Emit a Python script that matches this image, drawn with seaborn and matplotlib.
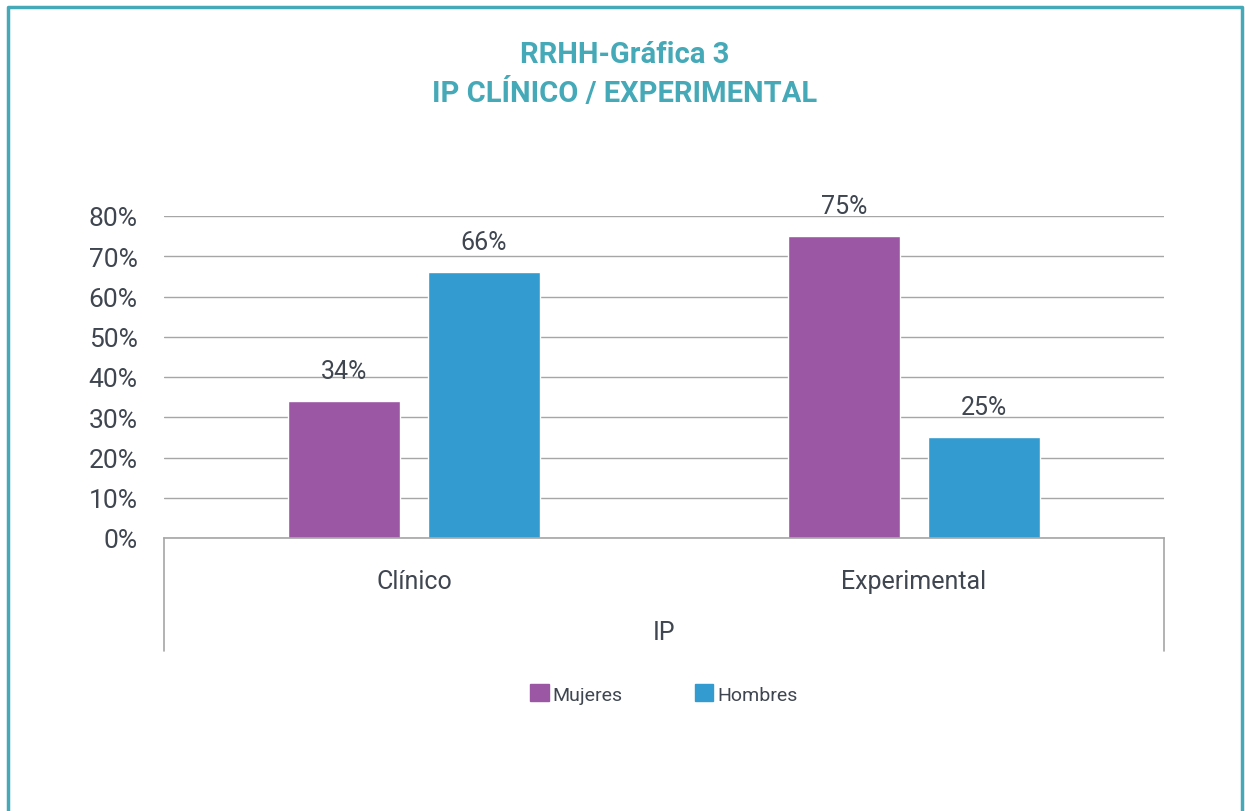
import pandas as pd
import numpy as np

import matplotlib.pyplot as plt
import seaborn as sns
from matplotlib.lines import Line2D

categorias = ['Clínico', 'Experimental']
series = ['Mujeres', 'Hombres']
mujeres = [0.34, 0.75]
hombres = [0.66, 0.25]
etiquetas_y = ['0%', '10%', '20%', '30%', '40%', '50%', '60%', '70%', '80%']

colores = ['#9B57A3', '#339BCF']
texto = '#3F4650'
teal = '#45A9B8'
rejilla = '#A6A6A6'


def get_df():
    """build the long dataframe that seaborn wants"""
    df = pd.DataFrame({'IP': categorias * 2,
                       'serie': [series[0]] * 2 + [series[1]] * 2,
                       'valor': mujeres + hombres})
    return df


def plot(df):
    sns.set_style('white')
    plt.rcParams['font.family'] = ['Roboto', 'DejaVu Sans']

    fig = plt.figure(figsize=(12.45, 8.12), dpi=100)
    ax = fig.add_axes([164 / 1245, 1 - 539 / 812, 1000 / 1245, 322 / 812])

    sns.barplot(data=df, x='IP', y='valor', hue='serie', order=categorias,
                hue_order=series, palette=colores, width=0.56, gap=0.2,
                saturation=1, ax=ax, legend=True)

    ax.set_xlim(-0.5, 1.5)
    ax.set_ylim(0, 0.8)
    ax.set_yticks(np.linspace(0, 0.8, len(etiquetas_y)))
    ax.set_yticklabels(etiquetas_y)
    ax.yaxis.grid(True, color=rejilla, linewidth=1)
    ax.set_axisbelow(True)
    for s in ['top', 'right', 'left']:
        ax.spines[s].set_visible(False)
    ax.spines['bottom'].set_color(rejilla)
    ax.spines['bottom'].set_linewidth(1.2)
    ax.tick_params(axis='y', length=0, pad=19, labelsize=19, labelcolor=texto)
    ax.tick_params(axis='x', length=0, pad=22, labelsize=18, labelcolor=texto)
    ax.set_ylabel('')
    ax.set_xlabel('IP', fontsize=18, color=texto, labelpad=20)

    for cont in ax.containers:
        ax.bar_label(cont, labels=[f'{v * 100:.0f}%' for v in cont.datavalues],
                     padding=13, fontsize=18, color=texto)

    # caja del eje de categorias
    for x in [164, 1164]:
        fig.add_artist(Line2D([x / 1245, x / 1245], [1 - 539 / 812, 1 - 652 / 812],
                              color=rejilla, linewidth=1.2))

    # leyenda
    ax.get_legend().remove()
    handles = [plt.Rectangle((0, 0), 1, 1, color=c) for c in colores]
    fig.legend(handles, series, loc='center', bbox_to_anchor=(664 / 1245, 1 - 695 / 812),
               ncol=2, frameon=False, fontsize=14, labelcolor=texto,
               handlelength=0.95, handleheight=0.95, handletextpad=0.2,
               columnspacing=3.7)

    fig.text(0.502, 1 - 55 / 812, 'RRHH-Gráfica 3', ha='center', va='center',
             fontsize=21, fontweight='bold', color=teal)
    fig.text(0.502, 1 - 93 / 812, 'IP CLÍNICO / EXPERIMENTAL', ha='center', va='center',
             fontsize=21, fontweight='bold', color=teal)

    # marco exterior
    x0, x1, y1 = 7.5 / 1245, 1241.5 / 1245, 1 - 7.5 / 812
    fig.add_artist(Line2D([x0, x0, x1, x1], [0, y1, y1, 0], color=teal, linewidth=2.5))

    fig.savefig('out.png', dpi=100)


def main():
    df = get_df()
    plot(df)


if __name__ == '__main__':
    main()
